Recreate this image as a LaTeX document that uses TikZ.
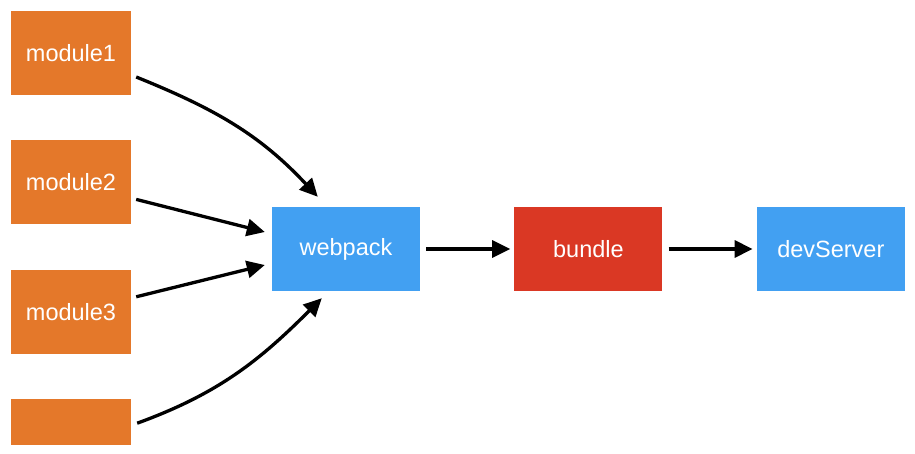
\documentclass[tikz,border=0pt]{standalone}
\usepackage{fontspec}
\setmainfont{Liberation Sans}
\usepackage{tikz}
\usetikzlibrary{arrows.meta,positioning}
\definecolor{modorange}{RGB}{228,120,42}
\definecolor{packblue}{RGB}{66,160,242}
\definecolor{bundlered}{RGB}{218,56,36}
\tikzset{
	module/.style={
		rectangle, fill=modorange,
		minimum width=120pt, minimum height=84pt,
		inner sep=0pt, text=white,
		font=\fontsize{23.5}{27}\selectfont
	},
	stage/.style={module, fill=packblue, minimum width=148pt},
	flow/.style={-{Triangle[length=18pt,width=17pt]}, line width=3.3pt, black}
}

\begin{document}
\begin{tikzpicture}[x=1pt,y=1pt,node distance=45pt]
				\useasboundingbox (0,0) rectangle (915,-454);
				\node[module] (m1) at (71,-53) {module1};
				\node[module] (m2) [below=of m1] {module2};
				\node[module] (m3) [below=of m2] {module3};
				\node[module, minimum height=46pt] (m4) [below=of m3] {};
				\node[stage] (webpack) at (346,-249) {webpack};
				\node[stage, fill=bundlered] (bundle) [right=94pt of webpack] {bundle};
				\node[stage] (devserver) [right=94pt of bundle] {devServer};
				\draw[flow] ([xshift=5pt,yshift=-24pt]m1.east) to[out=-22,in=133] ([xshift=46pt,yshift=10pt]webpack.north west);
				\draw[flow] ([xshift=5pt,yshift=-17pt]m2.east) -- ([xshift=-7pt,yshift=17pt]webpack.west);
				\draw[flow] ([xshift=5pt,yshift=15pt]m3.east) -- ([xshift=-7pt,yshift=-16pt]webpack.west);
				\draw[flow] ([xshift=6pt,yshift=-1pt]m4.east) to[out=20,in=225] ([xshift=50pt,yshift=-7pt]webpack.south west);
				\draw[flow, shorten <=6pt, shorten >=4pt] (webpack) -- (bundle);
				\draw[flow, shorten <=6pt, shorten >=4pt] (bundle) -- (devserver);
			\end{tikzpicture}
\end{document}
